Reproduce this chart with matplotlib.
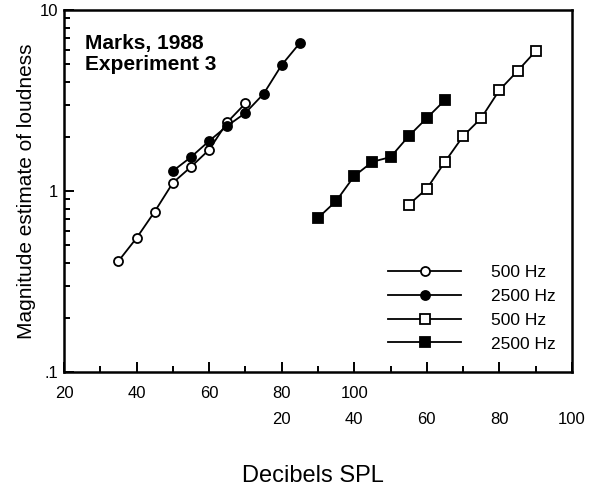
import matplotlib
matplotlib.use("Agg")
import matplotlib.pyplot as plt
from matplotlib.ticker import FixedLocator, FixedFormatter, NullFormatter

plt.rcParams["font.family"] = ["Liberation Sans", "DejaVu Sans"]

# ----------------------------------------------------------------------
# Data
# circles use the upper dB scale, squares use the lower (shifted) dB scale
db_open_circ = [35, 40, 45, 50, 55, 60, 65, 70]
me_open_circ = [0.41, 0.55, 0.77, 1.11, 1.36, 1.69, 2.40, 3.05]

db_fill_circ = [50, 55, 60, 65, 70, 75, 80, 85]
me_fill_circ = [1.29, 1.54, 1.89, 2.29, 2.70, 3.44, 4.97, 6.57]

db_fill_sq = [30, 35, 40, 45, 50, 55, 60, 65]
me_fill_sq = [0.71, 0.88, 1.21, 1.45, 1.54, 2.01, 2.53, 3.18]

db_open_sq = [55, 60, 65, 70, 75, 80, 85, 90]
me_open_sq = [0.84, 1.03, 1.45, 2.01, 2.53, 3.61, 4.60, 5.93]

square_shift = 60   # lower scale = upper scale - 60 dB

x_ticks_top = [20, 40, 60, 80, 100]
x_ticks_bottom = [20, 40, 60, 80, 100]
y_ticks = [0.1, 1, 10]
y_tick_labels = [".1", "1", "10"]
legend_labels = ["500 Hz", "2500 Hz", "500 Hz", "2500 Hz"]

# ----------------------------------------------------------------------
fig = plt.figure(figsize=(5.89, 4.87), dpi=100)
ax = fig.add_axes([0.1087, 0.2361, 0.8624, 0.7434])

line_kw = dict(color="black", lw=1.3, markeredgewidth=1.3, markeredgecolor="black")
h1, = ax.plot(db_open_circ, me_open_circ, marker="o", ms=6.5, mfc="white", **line_kw)
h2, = ax.plot(db_fill_circ, me_fill_circ, marker="o", ms=6.5, mfc="black", **line_kw)
h3, = ax.plot([d + square_shift for d in db_open_sq], me_open_sq, marker="s", ms=6.5,
              mfc="white", **line_kw)
h4, = ax.plot([d + square_shift for d in db_fill_sq], me_fill_sq, marker="s", ms=7,
              mfc="black", **line_kw)

ax.set_yscale("log")
ax.set_xlim(20, 160)
ax.set_ylim(0.1, 10)

# y axis
ax.yaxis.set_major_locator(FixedLocator(y_ticks))
ax.yaxis.set_major_formatter(FixedFormatter(y_tick_labels))
ax.yaxis.set_minor_formatter(NullFormatter())

# x axis (upper row of labels)
ax.xaxis.set_major_locator(FixedLocator(list(range(20, 161, 20))))
ax.xaxis.set_minor_locator(FixedLocator(list(range(30, 161, 20))))
ax.set_xticklabels([str(t) if t in x_ticks_top else "" for t in range(20, 161, 20)])

ax.tick_params(which="both", direction="in", top=False, right=False, width=1.4,
               labelsize=12)
ax.tick_params(which="major", length=7)
ax.tick_params(which="minor", length=4)
ax.tick_params(axis="x", pad=10)
ax.tick_params(axis="y", pad=4)
for sp in ax.spines.values():
    sp.set_linewidth(1.8)

# second row of labels (shifted dB scale for squares)
sec = ax.secondary_xaxis("bottom", functions=(lambda x: x - square_shift,
                                              lambda x: x + square_shift))
sec.set_xticks(x_ticks_bottom)
sec.set_xticklabels([str(t) for t in x_ticks_bottom])
sec.tick_params(length=0, pad=29, labelsize=12)
sec.spines["bottom"].set_visible(False)

ax.set_ylabel("Magnitude estimate of loudness", fontsize=15, labelpad=3)
fig.text(0.532, 0.022, "Decibels SPL", fontsize=17, ha="center", va="center")

ax.text(0.041, 0.935, "Marks, 1988\nExperiment 3", transform=ax.transAxes,
        fontsize=15, fontweight="bold", va="top", ha="left", linespacing=1.15)

ax.legend([h1, h2, h3, h4], legend_labels, loc="upper left",
          bbox_to_anchor=(0.638, 0.296), frameon=False, fontsize=12.5,
          handlelength=4.2, handletextpad=1.7, labelspacing=0.5,
          borderpad=0, borderaxespad=0, numpoints=1)

fig.savefig("out.png", dpi=100)
